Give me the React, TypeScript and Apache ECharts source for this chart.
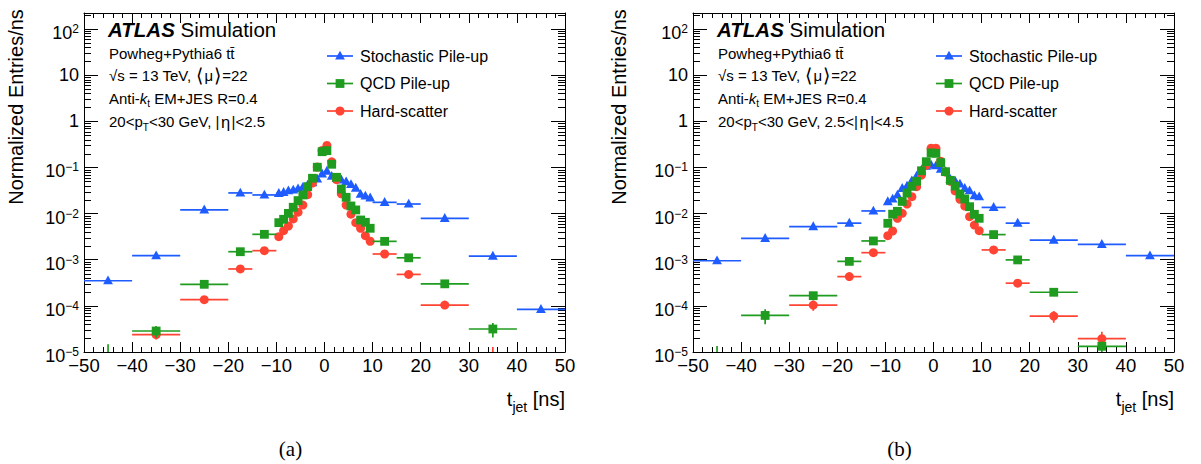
import React, { useEffect, useRef } from 'react';
import * as echarts from 'echarts';

const FONT = '"Liberation Sans", Arial, Helvetica, sans-serif';
const SERIF = '"Liberation Serif", "Times New Roman", serif';
const BLUE = '#1f5cff';
const GREEN = '#1f9b1f';
const RED = '#ff4433';

// bin edges in ns (30 bins)
const binEdges = [-50, -40, -30, -20, -15, -10, -9, -8, -7, -6, -5, -4, -3, -2, -1, 0, 1, 2, 3, 4, 5, 6, 7, 8, 9, 10, 15, 20, 30, 40, 50];

// panel (a): |eta| < 2.5
const stochA = [3.5e-4, 1.22e-3, 1.2e-2, 2.8e-2, 2.53e-2, 2.75e-2, 2.88e-2, 3.13e-2, 3.24e-2, 3.46e-2, 3.72e-2, 4.17e-2, 4.68e-2, 5.62e-2, 7.24e-2, 8.32e-2, 6.46e-2, 5.75e-2, 5.37e-2, 4.9e-2, 4.27e-2, 3.55e-2, 2.63e-2, 2.4e-2, 2.19e-2, 1.75e-2, 1.61e-2, 7.9e-3, 1.2e-3, 8.4e-5];
const qcdA = [7e-6, 2.85e-5, 2.93e-4, 1.49e-3, 3.55e-3, 6.35e-3, 7.52e-3, 1.01e-2, 1.37e-2, 1.91e-2, 2.53e-2, 3.83e-2, 5.82e-2, 0.101, 0.219, 0.231, 0.117, 6.11e-2, 3.41e-2, 2.25e-2, 1.46e-2, 1.2e-2, 7.26e-3, 6.47e-3, 4.8e-3, 2.5e-3, 1.1e-3, 3.0e-4, 3.15e-5, null];
const hardA = [null, 2.37e-5, 1.36e-4, 6.3e-4, 1.57e-3, 3.16e-3, 4.26e-3, 5.38e-3, 7.64e-3, 1.07e-2, 1.53e-2, 2.57e-2, 4.57e-2, 0.102, 0.234, 0.299, 0.132, 5.43e-2, 2.69e-2, 1.53e-2, 9.7e-3, 6.35e-3, 4.79e-3, 3.31e-3, 2.51e-3, 1.33e-3, 4.8e-4, 1.04e-4, 6e-6, null];
// [bin index, error]
const qcdAErr = [[0, 7.8e-6], [1, 8.2e-6], [28, 1.1e-5]];
const hardAErr = [[1, 5e-6], [28, 6.9e-6]];
const stochAErr: number[][] = [];

// panel (b): 2.5 < |eta| < 4.5
const stochB = [9.5e-4, 2.9e-3, 5.2e-3, 6.2e-3, 1.14e-2, 1.81e-2, 2.07e-2, 2.53e-2, 3.53e-2, 3.96e-2, 5.16e-2, 6.53e-2, 8.81e-2, 0.107, 0.113, 0.109, 9.12e-2, 8.09e-2, 5.53e-2, 5.08e-2, 4.38e-2, 3.53e-2, 3.13e-2, 2.44e-2, 2.32e-2, 1.36e-2, 6.2e-3, 2.67e-3, 2.16e-3, 1.22e-3];
const qcdB = [6e-6, 6.2e-5, 1.66e-4, 9.2e-4, 2.55e-3, 6.15e-3, 9.7e-3, 1.12e-2, 1.83e-2, 2.8e-2, 3.89e-2, 5.01e-2, 8.45e-2, 0.133, 0.206, 0.202, 0.127, 8.09e-2, 5.25e-2, 3.94e-2, 2.65e-2, 2.07e-2, 1.41e-2, 9.64e-3, 7.89e-3, 3.5e-3, 9.9e-4, 1.97e-4, 1.33e-5, null];
const hardB = [null, null, 1.04e-4, 4.3e-4, 1.42e-3, 3.31e-3, 4.19e-3, 7.89e-3, 1.01e-2, 1.61e-2, 2.32e-2, 3.83e-2, 6.85e-2, 0.112, 0.26, 0.26, 0.136, 7.94e-2, 5.01e-2, 3.09e-2, 2.04e-2, 1.46e-2, 8.57e-3, 5.62e-3, 4.26e-3, 1.63e-3, 3.1e-4, 6.0e-5, 1.94e-5, null];
const qcdBErr = [[0, 7.5e-6], [1, 2.2e-5], [28, 3.4e-6]];
const hardBErr = [[2, 2.6e-5], [27, 1.7e-5], [28, 8e-6]];
const stochBErr: number[][] = [];

const legendNames = ['Stochastic Pile-up', 'QCD Pile-up', 'Hard-scatter'];
const etaPre = ['', '2.5<'];
const etaPost = ['<2.5', '<4.5'];
const captions = ['(a)', '(b)'];

const Y_MIN = 1e-5;
const Y_MAX = 222;
const yMinorTicks: number[] = [];
for (let e = -5; e <= 2; e++) {
  for (let m = 2; m <= 9; m++) {
    const v = m * Math.pow(10, e);
    if (v < Y_MAX) yMinorTicks.push(v);
  }
}

type Shape = 'tri' | 'sq' | 'circ';

function marker(shape: Shape, cx: number, cy: number, color: string): any {
  if (shape === 'tri') {
    return { type: 'polygon', shape: { points: [[cx, cy - 5.3], [cx - 4.9, cy + 3.6], [cx + 4.9, cy + 3.6]] }, style: { fill: color } };
  }
  if (shape === 'sq') {
    return { type: 'rect', shape: { x: cx - 4.4, y: cy - 4.4, width: 8.8, height: 8.8 }, style: { fill: color } };
  }
  return { type: 'circle', shape: { cx, cy, r: 4.5 }, style: { fill: color } };
}

function dataSeries(grid: number, vals: (number | null)[], errs: number[][], color: string, shape: Shape, name: string) {
  const errMap: Record<number, number> = {};
  errs.forEach(([i, e]) => { errMap[i] = e; });
  const data: number[][] = [];
  vals.forEach((v, i) => {
    if (v == null) return;
    data.push([(binEdges[i] + binEdges[i + 1]) / 2, v, binEdges[i], binEdges[i + 1], errMap[i] || 0]);
  });
  return {
    type: 'custom', name, xAxisIndex: grid * 2, yAxisIndex: grid * 2, silent: true, data,
    renderItem: (_p: any, api: any) => {
      const cx = api.value(0);
      const v = api.value(1);
      const lo = api.value(2);
      const hi = api.value(3);
      const e = api.value(4);
      const children: any[] = [];
      if (v >= Y_MIN) {
        const a = api.coord([lo, v]);
        const b = api.coord([hi, v]);
        children.push({ type: 'line', shape: { x1: a[0], y1: a[1], x2: b[0], y2: b[1] }, style: { stroke: color, lineWidth: 1.7 } });
      }
      if (e > 0 && v + e > Y_MIN) {
        const up = api.coord([cx, v + e]);
        const dn = api.coord([cx, Math.max(v - e, Y_MIN)]);
        children.push({ type: 'line', shape: { x1: up[0], y1: up[1], x2: dn[0], y2: dn[1] }, style: { stroke: color, lineWidth: 1.7 } });
      }
      if (v >= Y_MIN) {
        const p = api.coord([cx, v]);
        children.push(marker(shape, p[0], p[1], color));
      }
      return { type: 'group', children };
    },
  };
}

function minorTickSeries(grid: number) {
  return {
    type: 'custom', xAxisIndex: grid * 2, yAxisIndex: grid * 2, silent: true,
    data: yMinorTicks.map((v) => [-50, v]),
    renderItem: (_p: any, api: any) => {
      const v = api.value(1);
      const a = api.coord([-50, v]);
      const b = api.coord([50, v]);
      const y = Math.round(a[1]) + 0.5;
      return {
        type: 'group',
        children: [
          { type: 'line', shape: { x1: a[0], y1: y, x2: a[0] + 7, y2: y }, style: { stroke: '#000', lineWidth: 1 } },
          { type: 'line', shape: { x1: b[0] - 7, y1: y, x2: b[0], y2: y }, style: { stroke: '#000', lineWidth: 1 } },
        ],
      };
    },
  };
}

function xAx(grid: number, pos: string, labels: boolean) {
  return {
    type: 'value', gridIndex: grid, position: pos, min: -50, max: 50, interval: 10,
    axisLine: { show: true, onZero: false, lineStyle: { color: '#000', width: 1 } },
    axisTick: { show: true, inside: true, length: 10, lineStyle: { color: '#000', width: 1 } },
    minorTick: { show: true, splitNumber: 5, length: 5, lineStyle: { color: '#000', width: 1 } },
    splitLine: { show: false }, minorSplitLine: { show: false },
    axisLabel: {
      show: labels, margin: 4, fontSize: 18.5, fontFamily: FONT, color: '#000',
      formatter: (v: number) => String(v).replace('-', '\u2212'),
    },
  };
}

function yLabel(v: number) {
  const l = Math.log10(v);
  const e = Math.round(l);
  if (Math.abs(l - e) > 1e-6) return '';
  if (e === 0) return '{p|1}';
  if (e === 1) return '{p|10}';
  return '{b|10}{s|' + (e < 0 ? '\u2212' + (-e) : String(e)) + '}';
}

function yAx(grid: number, pos: string, labels: boolean) {
  return {
    type: 'log', logBase: 10, gridIndex: grid, position: pos, min: Y_MIN, max: Y_MAX,
    axisLine: { show: true, onZero: false, lineStyle: { color: '#000', width: 1 } },
    axisTick: { show: true, inside: true, length: 14, lineStyle: { color: '#000', width: 1 } },
    minorTick: { show: false }, splitLine: { show: false },
    axisLabel: {
      show: labels, margin: 5, color: '#000', fontFamily: FONT, fontSize: 18,
      formatter: yLabel,
      rich: {
        p: { fontSize: 18, fontFamily: FONT, color: '#000' },
        b: { fontSize: 18, lineHeight: 18, verticalAlign: 'bottom', fontFamily: FONT, color: '#000' },
        s: { fontSize: 12, lineHeight: 26, verticalAlign: 'middle', fontFamily: FONT, color: '#000' },
      },
    },
  };
}

function fs(size: number, extra: any = {}) {
  const style = extra.fontStyle || 'normal';
  const weight = extra.fontWeight || 'normal';
  const fam = extra.fontFamily || FONT;
  return {
    font: `${style} ${weight} ${size}px ${fam}`,
    fontSize: size, fontFamily: fam, fontStyle: style, fontWeight: weight, fill: '#000',
    ...extra,
  };
}

const INFO = 15;
const INFO_SUB = 10;
const titleX = [16, 618.5];

function panelGraphics(i: number) {
  const ox = i * 609;
  const els: any[] = [];
  const plain = (x: number, y: number, text: string, size: number, extra: any = {}) => ({
    type: 'text', x, y, silent: true,
    style: { text, align: 'left', verticalAlign: 'middle', ...fs(size), ...extra },
  });
  const richT = (x: number, y: number, text: string, size: number, rich: any, extra: any = {}) => ({
    type: 'text', x, y, silent: true,
    style: { text, align: 'left', verticalAlign: 'middle', ...fs(size), rich, ...extra },
  });
  els.push(richT(108 + ox, 29.5, '{a|ATLAS} {n|Simulation}', 20.5, {
    a: fs(20.5, { fontWeight: 'bold', fontStyle: 'italic' }),
    n: fs(20.5),
  }));
  els.push(plain(109 + ox, 53, 'Powheg+Pythia6 tt\u0304', INFO));
  els.push(richT(109 + ox, 75.5, '{m|\u221as = 13 TeV, }{b|\u27e8}{m|\u03bc}{b|\u27e9}{m|=22}', INFO, {
    m: fs(INFO, { lineHeight: 20, verticalAlign: 'middle' }),
    b: fs(19, { lineHeight: 20, verticalAlign: 'middle', padding: [0, 1, 0, 1] }),
  }));
  els.push(richT(109 + ox, 98.5, '{m|Anti-}{i|k}{s|t}{m| EM+JES R=0.4}', INFO, {
    m: fs(INFO, { lineHeight: 20, verticalAlign: 'middle' }),
    i: fs(INFO, { lineHeight: 20, fontStyle: 'italic', verticalAlign: 'middle' }),
    s: fs(INFO_SUB, { lineHeight: 10, verticalAlign: 'bottom' }),
  }));
  els.push(richT(109 + ox, 121.5,
    '{m|20<p}{s|T}{m|<30 GeV, ' + etaPre[i] + '|}{e|\u03b7}{m||' + etaPost[i] + '}', INFO, {
      m: fs(INFO, { lineHeight: 22, verticalAlign: 'middle' }),
      e: fs(16.5, { lineHeight: 22, verticalAlign: 'middle', padding: [0, 1.5, 0, 1.5] }),
      s: fs(INFO_SUB, { lineHeight: 10, verticalAlign: 'bottom' }),
    }));
  // legend
  const rows: [string, Shape, number][] = [[BLUE, 'tri', 56], [GREEN, 'sq', 83.5], [RED, 'circ', 111]];
  rows.forEach(([c, s, y], k) => {
    els.push({ type: 'line', silent: true, shape: { x1: 327 + ox, y1: y, x2: 353 + ox, y2: y }, style: { stroke: c, lineWidth: 1.7 } });
    const m = marker(s, 340 + ox, y, c);
    m.silent = true;
    els.push(m);
    els.push(plain(360 + ox, y, legendNames[k], 16));
  });
  // axis titles
  els.push({ type: 'text', x: titleX[i], y: 107, rotation: Math.PI / 2, silent: true,
    style: { text: 'Normalized Entries/ns', align: 'center', verticalAlign: 'middle', ...fs(20) } });
  els.push({ type: 'text', x: 565 + ox, y: 399, silent: true,
    style: {
      text: '{m|t}{s|jet}{m| [ns]}', align: 'right', verticalAlign: 'middle', ...fs(20),
      rich: {
        m: fs(20, { lineHeight: 30, verticalAlign: 'middle' }),
        s: fs(14, { lineHeight: 14, verticalAlign: 'bottom' }),
      },
    } });
  // sub-figure caption
  els.push(plain(290.5 + ox, 449, captions[i], 21, { align: 'center', ...fs(21, { fontFamily: SERIF }) }));
  return els;
}

export default function App() {
  const ref = useRef<HTMLDivElement>(null);
  useEffect(() => {
    if (!ref.current) return;
    const chart = echarts.init(ref.current, undefined, { renderer: 'svg' });
    const option: any = {
      animation: false,
      backgroundColor: '#fff',
      textStyle: { fontFamily: FONT },
      grid: [
        { left: 84, top: 13, width: 481, height: 339, outerBoundsMode: 'none' },
        { left: 693, top: 13, width: 481, height: 339, outerBoundsMode: 'none' },
      ],
      xAxis: [xAx(0, 'bottom', true), xAx(0, 'top', false), xAx(1, 'bottom', true), xAx(1, 'top', false)],
      yAxis: [yAx(0, 'left', true), yAx(0, 'right', false), yAx(1, 'left', true), yAx(1, 'right', false)],
      series: [
        minorTickSeries(0),
        minorTickSeries(1),
        dataSeries(0, stochA, stochAErr, BLUE, 'tri', legendNames[0]),
        dataSeries(0, hardA, hardAErr, RED, 'circ', legendNames[2]),
        dataSeries(0, qcdA, qcdAErr, GREEN, 'sq', legendNames[1]),
        dataSeries(1, stochB, stochBErr, BLUE, 'tri', legendNames[0]),
        dataSeries(1, hardB, hardBErr, RED, 'circ', legendNames[2]),
        dataSeries(1, qcdB, qcdBErr, GREEN, 'sq', legendNames[1]),
      ],
      graphic: { elements: [...panelGraphics(0), ...panelGraphics(1)] },
    };
    chart.setOption(option);
    return () => chart.dispose();
  }, []);
  return <div ref={ref} style={{ position: 'fixed', left: 0, top: 0, width: 1201, height: 464, background: '#fff' }} />;
}
